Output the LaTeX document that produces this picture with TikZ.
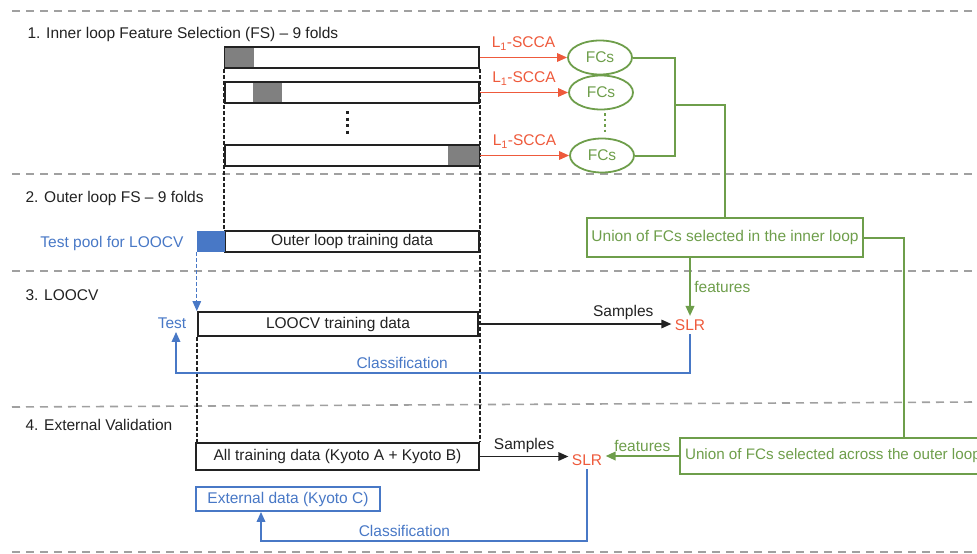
\documentclass[tikz,border=0pt]{standalone}
\usepackage{fontspec}
\setmainfont{Liberation Sans}
\usepackage{tikz}
\usetikzlibrary{arrows.meta}
\usetikzlibrary{shapes.geometric}
\definecolor{sccared}{HTML}{EE5A3C}
\definecolor{fcgreen}{HTML}{6E9E4B}
\definecolor{poolblue}{HTML}{4878C6}
\definecolor{sepgray}{HTML}{A0A0A0}
\definecolor{blockgray}{HTML}{808080}
\definecolor{ink}{HTML}{222222}

\begin{document}
\begin{tikzpicture}[x=1pt, y=-1pt,
  every node/.style = {align=center, text=ink, font=\fontsize{15.5}{18}\selectfont},
  arrowhead/.style = {-{Triangle[length=10pt, width=8.5pt]}},
  sep/.style = {draw=sepgray, line width=1.6pt, dash pattern=on 8pt off 6pt},
  guide/.style = {draw=ink, line width=1.3pt, dash pattern=on 4pt off 2pt},
  bar/.style = {draw=ink, line width=1.8pt, fill=white, minimum height=21pt, inner sep=0pt},
  fold/.style = {fill=blockgray, minimum height=19.5pt, inner sep=0pt},
  fc/.style = {ellipse, draw=fcgreen, line width=1.8pt, text=fcgreen, minimum width=64pt, minimum height=34pt, inner sep=0pt},
  union/.style = {draw=fcgreen, line width=1.8pt, text=fcgreen, inner sep=2pt},
  select/.style = {draw=sccared, line width=1.6pt, arrowhead},
  feed/.style = {draw=fcgreen, line width=2pt},
  back/.style = {draw=poolblue, line width=1.8pt}]
  \useasboundingbox (0,0) rectangle (977,554);

  \path [sep] (12,11) -- (977,11);
  \path [sep] (12,174) -- (977,174);
  \path [sep] (12,271) -- (977,271);
  \path [sep] (12,407) -- (977,402);
  \path [sep] (12,552) -- (977,552);

  \node [anchor=west] (inner) at (24,34) {1. Inner loop Feature Selection (FS) -- 9 folds};
  \node [anchor=west] (outer) at (22,198) {2. Outer loop FS -- 9 folds};
  \node [anchor=west] (loo) at (22,295) {3. LOOCV};
  \node [anchor=west] (extval) at (22,425) {4. External Validation};

  \node [bar, minimum width=254pt] (bar1) at (352,57.5) {};
  \node [fold, minimum width=29pt] at (239.5,57.5) {};
  \node [bar, minimum width=254pt] (bar2) at (352,92.5) {};
  \node [fold, minimum width=29pt] at (267.5,92.5) {};
  \node [bar, minimum width=254pt] (bar3) at (352,155.5) {};
  \node [fold, minimum width=31pt] at (463.5,155.5) {};
  \draw [ink, line width=3pt, dash pattern=on 3pt off 3.5pt] (347,111) -- (347,134);

  \node [bar, minimum width=254pt] (outertrain) at (352,241.5) {Outer loop training data};
  \node [fill=poolblue, minimum width=28pt, minimum height=21pt, inner sep=0pt] (pool) at (211,241.5) {};
  \node [anchor=east, text=poolblue] (poollabel) at (187,243) {Test pool for LOOCV};

  \node [bar, minimum width=280pt, minimum height=24pt] (loocv) at (338,324) {LOOCV training data};
  \node [text=poolblue] (test) at (172,323) {Test};
  \node [bar, minimum width=283pt, minimum height=27pt] (alltrain) at (337.5,456.5) {All training data (Kyoto A + Kyoto B)};
  \node [bar, draw=poolblue, text=poolblue, minimum width=184pt, minimum height=24pt] (ext) at (288,499) {External data (Kyoto C)};

  \path [guide] (bar1.south west) -- (outertrain.north west);
  \path [guide] (bar1.south east) -- (alltrain.north east);
  \path [guide] (loocv.south west) -- (loocv.south west |- alltrain.north);
  \path [draw=poolblue, line width=1.3pt, dash pattern=on 4pt off 2pt, arrowhead] (pool.south west) -- (pool.south west |- loocv.north);

  \node [fc] (fc1) at (600,57.5) {FCs};
  \node [fc] (fc2) at (601,92.5) {FCs};
  \node [fc] (fc3) at (602,155.5) {FCs};
  \draw [fcgreen, line width=2.5pt, dash pattern=on 2.5pt off 3pt] (605,113) -- (605,134);
  \path [select] (bar1.east) -- node [above=3pt, text=sccared] {L\textsubscript{1}-SCCA} (fc1.west);
  \path [select] (bar2.east) -- node [above=3pt, text=sccared] {L\textsubscript{1}-SCCA} (fc2.west);
  \path [select] (bar3.east) -- node [above=3pt, text=sccared] {L\textsubscript{1}-SCCA} (fc3.west);

  \node [union, minimum width=276pt, minimum height=39pt] (union1) at (725,237.5) {Union of FCs selected in the inner loop};
  \node [union, minimum width=306pt, minimum height=36pt, anchor=west, font=\fontsize{15.2}{18}\selectfont] (union2) at (679,456) {Union of FCs selected across the outer loop};
  \coordinate (join1) at (675,105);
  \coordinate (join2) at (904,237.5);
  \path [feed] (fc1.east) -| (join1) |- (fc3.east);
  \path [feed] (join1) -| (union1.north);
  \path [feed] (union1.east) -- (join2) -- (join2 |- union2.north);

  \node [text=sccared] (slr1) at (690,325) {SLR};
  \node [text=sccared] (slr2) at (587,460) {SLR};
  \path [feed, arrowhead] (slr1 |- union1.south) -- node [right, text=fcgreen] {features} (slr1.north);
  \path [feed, arrowhead] (union2.west) -- node [above, text=fcgreen] {features} (union2.west -| slr2.east);
  \path [draw=ink, line width=1.6pt, arrowhead] (loocv.east) -- node [above, pos=0.75] {Samples} (loocv.east -| slr1.west);
  \path [draw=ink, line width=1.6pt, arrowhead] (alltrain.east) -- node [above] {Samples} (alltrain.east -| slr2.west);

  \coordinate (cls1) at (176,373);
  \coordinate (cls2) at (261,541);
  \path [back, arrowhead] (slr1.south) -- (slr1.south |- cls1) -- node [above, pos=0.56, text=poolblue] {Classification} (cls1) -- (cls1 |- test.south);
  \path [back, arrowhead] (slr2.south) -- (slr2.south |- cls2) -- node [above, pos=0.56, text=poolblue] {Classification} (cls2) -- (cls2 |- ext.south);
\end{tikzpicture}
\end{document}
